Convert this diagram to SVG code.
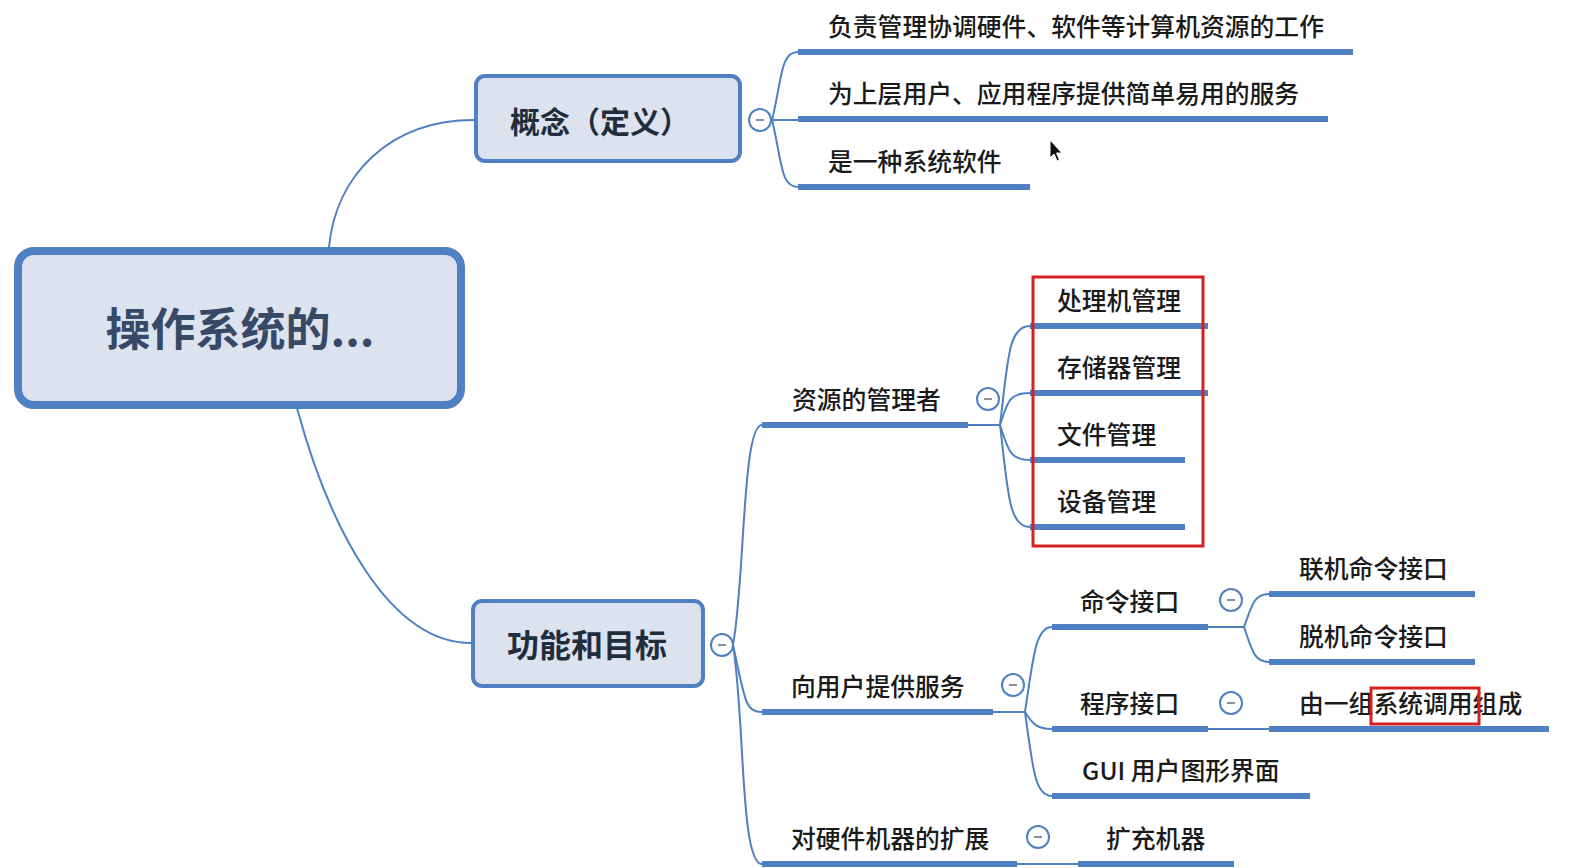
<svg xmlns="http://www.w3.org/2000/svg" width="1588" height="868" viewBox="0 0 1588 868">
<defs>
<style>
.bg{fill:#ffffff}
.conn{fill:none;stroke:#4e80c2;stroke-width:2}
.ul{stroke:#4e80c2;stroke-width:6;stroke-linecap:butt}
.node{fill:#dce3ef;stroke:#4e80c2}
.t{font-family:"Noto Sans CJK SC","Noto Sans",sans-serif;font-size:24.8px;font-weight:500;fill:#1a1a1a}
.nt{font-family:"Noto Sans CJK SC","Noto Sans",sans-serif;font-weight:700;fill:#1f2d3d;text-anchor:middle}
.btn circle{fill:#ffffff;stroke:#4e80c2;stroke-width:2}
.btn line{stroke:#8a8f99;stroke-width:2}
.red{fill:none;stroke:#d42020;stroke-width:3}
</style>
</defs>
<rect class="bg" x="0" y="0" width="1588" height="868"/>

<g id="connectors">
<path class="conn" d="M329,247 C336,175 390,120 474,120"/>
<path class="conn" d="M297,408 C330,530 390,643 471,643"/>
<path class="conn" d="M772,120 C782,80 780,52 798,52"/>
<path class="conn" d="M772,120 L798,120"/>
<path class="conn" d="M772,120 C782,160 780,187 798,187"/>
<path class="conn" d="M733,645 C745,580 742,425 762,425"/>
<path class="conn" d="M733,645 C745,700 745,712 762,712"/>
<path class="conn" d="M733,645 C745,720 740,864 762,864"/>
<path class="conn" d="M968,425 L1000,425"/>
<path class="conn" d="M1000,425 C1008,360 1008,326 1030,326"/>
<path class="conn" d="M1000,425 C1008,400 1010,393 1030,393"/>
<path class="conn" d="M1000,425 C1008,450 1010,460 1030,460"/>
<path class="conn" d="M1000,425 C1008,490 1008,527 1030,527"/>
<path class="conn" d="M993,712 L1025,712"/>
<path class="conn" d="M1025,712 C1033,660 1035,627 1052,627"/>
<path class="conn" d="M1025,712 C1033,725 1038,729 1052,729"/>
<path class="conn" d="M1025,712 C1033,770 1035,796 1052,796"/>
<path class="conn" d="M1208,627 L1244,627"/>
<path class="conn" d="M1244,627 C1252,605 1254,594 1269,594"/>
<path class="conn" d="M1244,627 C1252,650 1254,662 1269,662"/>
<path class="conn" d="M1208,729 L1269,729"/>
<path class="conn" d="M1017,864 L1078,864"/>
</g>

<g id="root">
<rect class="node" x="18" y="251" width="443" height="154" rx="16" stroke-width="8"/>
<text class="nt" x="240" y="346" font-size="45" style="fill:#364a68">操作系统的...</text>
</g>

<g id="concept">
<rect class="node" x="476" y="76" width="264" height="85" rx="9" stroke-width="4"/>
<text class="nt" x="600" y="133" font-size="30">概念（定义）</text>
<g class="btn"><circle cx="760" cy="120" r="11"/><line x1="756" y1="120" x2="764" y2="120"/></g>
</g>

<g id="concept-1"><line class="ul" x1="798" y1="52" x2="1353" y2="52"/><text class="t" x="828" y="36">负责管理协调硬件、软件等计算机资源的工作</text></g>
<g id="concept-2"><line class="ul" x1="798" y1="119" x2="1328" y2="119"/><text class="t" x="828" y="103">为上层用户、应用程序提供简单易用的服务</text></g>
<g id="concept-3"><line class="ul" x1="798" y1="187" x2="1030" y2="187"/><text class="t" x="828" y="171">是一种系统软件</text></g>

<g id="function">
<rect class="node" x="473" y="601" width="230" height="85" rx="9" stroke-width="4"/>
<text class="nt" x="587" y="657" font-size="32">功能和目标</text>
<g class="btn"><circle cx="722" cy="645" r="11"/><line x1="718" y1="645" x2="726" y2="645"/></g>
</g>

<g id="resource-manager">
<line class="ul" x1="762" y1="425" x2="968" y2="425"/>
<text class="t" x="792" y="409">资源的管理者</text>
<g class="btn"><circle cx="988" cy="399" r="11"/><line x1="984" y1="399" x2="992" y2="399"/></g>
</g>
<g id="cpu"><line class="ul" x1="1030" y1="326" x2="1208" y2="326"/><text class="t" x="1057" y="310">处理机管理</text></g>
<g id="mem"><line class="ul" x1="1030" y1="393" x2="1208" y2="393"/><text class="t" x="1057" y="377">存储器管理</text></g>
<g id="file"><line class="ul" x1="1030" y1="460" x2="1185" y2="460"/><text class="t" x="1057" y="444">文件管理</text></g>
<g id="dev"><line class="ul" x1="1030" y1="527" x2="1185" y2="527"/><text class="t" x="1057" y="511">设备管理</text></g>
<rect id="highlight-1" class="red" x="1033" y="277" width="170" height="269"/>

<g id="user-service">
<line class="ul" x1="762" y1="712" x2="993" y2="712"/>
<text class="t" x="791" y="696">向用户提供服务</text>
<g class="btn"><circle cx="1013" cy="685" r="11"/><line x1="1009" y1="685" x2="1017" y2="685"/></g>
</g>
<g id="cmd">
<line class="ul" x1="1052" y1="627" x2="1208" y2="627"/>
<text class="t" x="1080" y="611">命令接口</text>
<g class="btn"><circle cx="1231" cy="600" r="11"/><line x1="1227" y1="600" x2="1235" y2="600"/></g>
</g>
<g id="online"><line class="ul" x1="1269" y1="594" x2="1475" y2="594"/><text class="t" x="1299" y="578">联机命令接口</text></g>
<g id="offline"><line class="ul" x1="1269" y1="662" x2="1475" y2="662"/><text class="t" x="1299" y="646">脱机命令接口</text></g>
<g id="prog">
<line class="ul" x1="1052" y1="729" x2="1208" y2="729"/>
<text class="t" x="1080" y="713">程序接口</text>
<g class="btn"><circle cx="1231" cy="703" r="11"/><line x1="1227" y1="703" x2="1235" y2="703"/></g>
</g>
<g id="syscall"><line class="ul" x1="1269" y1="729" x2="1549" y2="729"/><text class="t" x="1299" y="713">由一组系统调用组成</text></g>
<rect id="highlight-2" class="red" x="1371" y="688" width="108" height="36"/>
<g id="gui"><line class="ul" x1="1052" y1="796" x2="1310" y2="796"/><text class="t" x="1082" y="780">GUI 用户图形界面</text></g>

<g id="extend">
<line class="ul" x1="762" y1="864" x2="1017" y2="864"/>
<text class="t" x="791" y="848">对硬件机器的扩展</text>
<g class="btn"><circle cx="1038" cy="837" r="11"/><line x1="1034" y1="837" x2="1042" y2="837"/></g>
</g>
<g id="expand"><line class="ul" x1="1078" y1="864" x2="1234" y2="864"/><text class="t" x="1106" y="848">扩充机器</text></g>

<path id="cursor" d="M1050,140 L1050,158 L1054,154 L1057,161 L1059.5,160 L1056.5,153 L1062,153 Z" fill="#111" stroke="#fff" stroke-width="1"/>
</svg>
